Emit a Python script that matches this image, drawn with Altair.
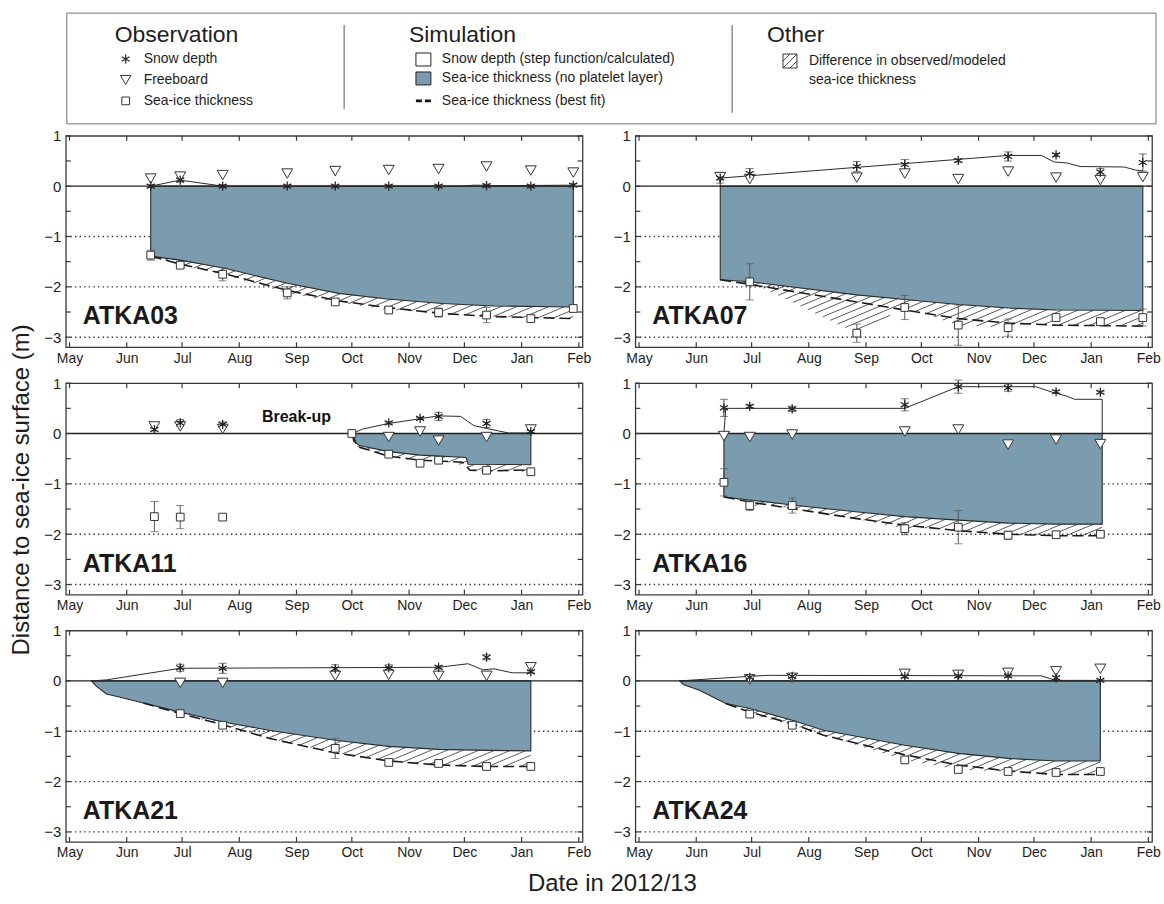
import altair as alt
import numpy as np
import pandas as pd

FONT = "Liberation Sans"
INK = "#1e1e1e"
FRAME = "#3a3a3a"
ICE_BLUE = "#7b9bae"

# ---------------------------------------------------------------- axes / text
SEASON_START = "2012-05-01"
MONTH_STARTS = ["2012-05-01", "2012-06-01", "2012-07-01", "2012-08-01", "2012-09-01",
                "2012-10-01", "2012-11-01", "2012-12-01", "2013-01-01", "2013-02-01"]
MONTH_LABELS = ["May", "Jun", "Jul", "Aug", "Sep", "Oct", "Nov", "Dec", "Jan", "Feb"]
Y_LABEL_VALUES = [1, 0, -1, -2, -3]
Y_TICK_VALUES = [1, 0.5, 0, -0.5, -1, -1.5, -2, -2.5, -3]
DOTTED_LEVELS = [-1, -2, -3]

Y_TITLE = "Distance to sea-ice surface (m)"
X_TITLE = "Date in 2012/13"
LEGEND_HEADINGS = ["Observation", "Simulation", "Other"]
OBS_ITEMS = ["Snow depth", "Freeboard", "Sea-ice thickness"]
SIM_ITEMS = ["Snow depth (step function/calculated)",
             "Sea-ice thickness (no platelet layer)",
             "Sea-ice thickness (best fit)"]
OTHER_ITEMS = ["Difference in observed/modeled", "sea-ice thickness"]

BREAKUP_TEXT = "Break-up"
BREAKUP_DATE = ["2012-09-01"]
BREAKUP_LEVEL = [0.23]

# ---------------------------------------------------------------- ATKA03
atka03_obs_dates = ["2012-06-14", "2012-06-30", "2012-07-23", "2012-08-27", "2012-09-22",
                    "2012-10-21", "2012-11-17", "2012-12-13", "2013-01-06", "2013-01-29"]
atka03_snow = [0.0, 0.12, 0.0, 0.0, 0.0, 0.0, 0.0, 0.01, 0.0, 0.02]
atka03_snow_err = [0.03, 0.04, 0.03, 0.02, 0.02, 0.02, 0.02, 0.03, 0.02, 0.03]
atka03_freeboard = [0.15, 0.19, 0.22, 0.25, 0.30, 0.32, 0.34, 0.39, 0.31, 0.27]
atka03_ice = [-1.37, -1.57, -1.75, -2.12, -2.30, -2.46, -2.51, -2.56, -2.63, -2.43]
atka03_ice_err = [0.10, 0.05, 0.13, 0.12, 0.03, 0.03, 0.09, 0.15, 0.03, 0.03]
atka03_model_dates = ["2012-06-14", "2012-06-30", "2012-07-24", "2012-08-27", "2012-09-24",
                      "2012-10-20", "2012-11-19", "2012-12-17", "2013-01-29"]
atka03_model_ice = [-1.39, -1.47, -1.63, -1.93, -2.13, -2.24, -2.33, -2.38, -2.40]
atka03_fit_dates = atka03_model_dates
atka03_fit_ice = [-1.39, -1.55, -1.74, -2.07, -2.28, -2.41, -2.53, -2.59, -2.63]
atka03_calc_dates = ["2012-06-14", "2012-06-30", "2012-07-23", "2012-11-30", "2012-12-06",
                     "2012-12-20", "2013-01-29"]
atka03_calc_snow = [0.0, 0.12, 0.0, 0.0, 0.02, 0.01, 0.02]

# ---------------------------------------------------------------- ATKA07
atka07_obs_dates = ["2012-06-14", "2012-06-30", "2012-08-27", "2012-09-22", "2012-10-21",
                    "2012-11-17", "2012-12-13", "2013-01-06", "2013-01-29"]
atka07_snow = [0.16, 0.25, 0.39, 0.43, 0.51, 0.59, 0.62, 0.28, 0.47]
atka07_snow_err = [0.10, 0.10, 0.10, 0.10, 0.03, 0.09, 0.03, 0.07, 0.17]
atka07_freeboard = [0.18, 0.14, 0.17, 0.25, 0.14, 0.29, 0.17, 0.12, 0.18]
atka07_ice = [None, -1.90, -2.92, -2.41, -2.76, -2.81, -2.61, -2.69, -2.61]
atka07_ice_err = [None, 0.36, 0.18, 0.24, 0.40, 0.17, 0.04, 0.04, 0.17]
atka07_model_dates = ["2012-06-14", "2012-06-30", "2012-08-27", "2012-09-22", "2012-10-21",
                      "2012-11-17", "2012-12-13", "2013-01-29"]
atka07_model_ice = [-1.86, -1.90, -2.16, -2.25, -2.35, -2.42, -2.46, -2.47]
atka07_fit_dates = atka07_model_dates
atka07_fit_ice = [-1.86, -1.95, -2.30, -2.46, -2.63, -2.72, -2.76, -2.78]
atka07_calc_dates = ["2012-06-14", "2012-06-14", "2012-11-17", "2012-12-05", "2012-12-12",
                     "2012-12-19", "2012-12-26", "2013-01-19", "2013-01-25", "2013-01-29"]
atka07_calc_snow = [0.0, 0.16, 0.61, 0.61, 0.48, 0.46, 0.39, 0.38, 0.32, 0.30]

# ---------------------------------------------------------------- ATKA11
atka11_obs_dates = ["2012-06-16", "2012-06-30", "2012-07-23", "2012-10-01", "2012-10-21",
                    "2012-11-07", "2012-11-17", "2012-12-13", "2013-01-06"]
atka11_snow = [0.08, 0.21, 0.18, None, 0.21, 0.30, 0.34, 0.20, 0.04]
atka11_snow_err = [0.03, 0.07, 0.05, None, 0.02, 0.02, 0.08, 0.08, 0.02]
atka11_freeboard = [0.14, 0.14, 0.09, None, -0.07, 0.04, -0.14, -0.07, 0.08]
atka11_ice = [-1.65, -1.66, -1.66, 0.0, -0.41, -0.59, -0.53, -0.73, -0.76]
atka11_ice_err = [0.30, 0.23, 0.05, 0.02, 0.02, 0.02, 0.03, 0.04, 0.02]
atka11_model_dates = ["2012-10-01", "2012-10-02", "2012-10-05", "2012-10-21", "2012-11-07",
                      "2012-11-30", "2012-12-02", "2012-12-03", "2013-01-06"]
atka11_model_ice = [0.0, -0.15, -0.24, -0.36, -0.43, -0.47, -0.48, -0.61, -0.62]
atka11_fit_dates = ["2012-10-01", "2012-10-04", "2012-10-21", "2012-11-07", "2012-11-30",
                    "2012-12-04", "2012-12-17", "2013-01-06"]
atka11_fit_ice = [0.0, -0.26, -0.45, -0.53, -0.57, -0.73, -0.74, -0.72]
atka11_calc_dates = ["2012-10-01", "2012-10-07", "2012-10-21", "2012-11-17", "2012-11-29",
                     "2012-12-06", "2012-12-13", "2012-12-25", "2013-01-06"]
atka11_calc_snow = [0.0, 0.09, 0.20, 0.35, 0.34, 0.16, 0.10, 0.01, 0.01]

# ---------------------------------------------------------------- ATKA16
atka16_obs_dates = ["2012-06-16", "2012-06-30", "2012-07-23", "2012-09-22", "2012-10-21",
                    "2012-11-17", "2012-12-13", "2013-01-06"]
atka16_snow = [0.51, 0.54, 0.49, 0.57, 0.93, 0.91, 0.83, 0.82]
atka16_snow_err = [0.17, 0.03, 0.05, 0.12, 0.13, 0.07, 0.03, 0.02]
atka16_freeboard = [-0.05, -0.07, -0.02, 0.04, 0.08, -0.22, -0.12, -0.21]
atka16_ice = [-0.97, -1.43, -1.43, -1.89, -1.86, -2.02, -2.01, -2.00]
atka16_ice_err = [0.27, 0.10, 0.15, 0.12, 0.33, 0.08, 0.03, 0.03]
atka16_model_dates = ["2012-06-16", "2012-06-30", "2012-07-23", "2012-08-25", "2012-09-22",
                      "2012-10-21", "2012-11-17", "2012-12-13", "2013-01-07"]
atka16_model_ice = [-1.26, -1.32, -1.42, -1.55, -1.65, -1.72, -1.78, -1.80, -1.80]
atka16_fit_dates = atka16_model_dates
atka16_fit_ice = [-1.26, -1.36, -1.49, -1.68, -1.82, -1.93, -2.00, -2.03, -2.03]
atka16_calc_dates = ["2012-06-16", "2012-06-17", "2012-09-22", "2012-10-21", "2012-12-02",
                     "2012-12-11", "2012-12-15", "2012-12-19", "2012-12-23", "2013-01-07",
                     "2013-01-07"]
atka16_calc_snow = [0.0, 0.50, 0.50, 0.93, 0.93, 0.82, 0.78, 0.74, 0.68, 0.68, 0.0]

# ---------------------------------------------------------------- ATKA21
atka21_obs_dates = ["2012-06-30", "2012-07-23", "2012-09-22", "2012-10-21", "2012-11-17",
                    "2012-12-13", "2013-01-06"]
atka21_snow = [0.26, 0.25, 0.24, 0.26, 0.27, 0.47, 0.18]
atka21_snow_err = [0.07, 0.10, 0.08, 0.06, 0.03, 0.05, 0.02]
atka21_freeboard = [-0.04, -0.04, 0.10, 0.12, 0.10, 0.10, 0.27]
atka21_ice = [-0.65, -0.88, -1.34, -1.62, -1.64, -1.70, -1.70]
atka21_ice_err = [0.03, 0.03, 0.20, 0.04, 0.04, 0.03, 0.02]
atka21_model_dates = ["2012-05-13", "2012-05-15", "2012-05-21", "2012-05-28", "2012-06-10",
                      "2012-06-30", "2012-07-24", "2012-08-17", "2012-09-22", "2012-10-21",
                      "2012-11-17", "2012-12-13", "2013-01-06"]
atka21_model_ice = [0.0, -0.09, -0.26, -0.32, -0.44, -0.62, -0.82, -0.98, -1.18, -1.30,
                    -1.36, -1.38, -1.39]
atka21_fit_dates = ["2012-06-10", "2012-06-30", "2012-07-24", "2012-08-17", "2012-09-22",
                    "2012-10-21", "2012-11-17", "2012-12-13", "2013-01-06"]
atka21_fit_ice = [-0.44, -0.65, -0.88, -1.14, -1.43, -1.59, -1.67, -1.70, -1.70]
atka21_calc_dates = ["2012-05-13", "2012-05-21", "2012-06-30", "2012-11-17", "2012-12-03",
                     "2012-12-11", "2012-12-17", "2012-12-27", "2013-01-06"]
atka21_calc_snow = [0.0, 0.02, 0.25, 0.27, 0.34, 0.22, 0.24, 0.16, 0.16]

# ---------------------------------------------------------------- ATKA24
atka24_obs_dates = ["2012-06-30", "2012-07-23", "2012-09-22", "2012-10-21", "2012-11-17",
                    "2012-12-13", "2013-01-06"]
atka24_snow = [0.07, 0.09, 0.09, 0.10, 0.10, 0.06, 0.01]
atka24_snow_err = [0.03, 0.03, 0.03, 0.03, 0.03, 0.03, 0.01]
atka24_freeboard = [0.03, 0.06, 0.14, 0.12, 0.16, 0.19, 0.24]
atka24_ice = [-0.66, -0.88, -1.57, -1.76, -1.80, -1.82, -1.80]
atka24_ice_err = [0.05, 0.04, 0.05, 0.04, 0.04, 0.02, 0.02]
atka24_model_dates = ["2012-05-23", "2012-05-25", "2012-06-03", "2012-06-17", "2012-06-30",
                      "2012-07-23", "2012-08-09", "2012-09-22", "2012-10-21", "2012-11-17",
                      "2012-12-13", "2013-01-06"]
atka24_model_ice = [0.0, -0.07, -0.19, -0.45, -0.55, -0.78, -0.98, -1.28, -1.44, -1.54,
                    -1.59, -1.59]
atka24_fit_dates = ["2012-06-17", "2012-06-30", "2012-07-23", "2012-08-09", "2012-09-22",
                    "2012-10-21", "2012-11-17", "2012-12-13", "2013-01-06"]
atka24_fit_ice = [-0.45, -0.62, -0.85, -1.08, -1.47, -1.67, -1.79, -1.86, -1.86]
atka24_calc_dates = ["2012-05-23", "2012-06-30", "2012-07-10", "2012-12-05", "2012-12-11",
                     "2012-12-15", "2013-01-06"]
atka24_calc_snow = [0.0, 0.09, 0.11, 0.10, 0.03, 0.01, 0.01]

# ---------------------------------------------------------------- geometry
W, H = 518, 212
X_DOMAIN = [-2, 278]
Y_DOMAIN = [-3.2, 1.0]
PX_DAY = W / (X_DOMAIN[1] - X_DOMAIN[0])
PX_M = H / (Y_DOMAIN[1] - Y_DOMAIN[0])

ASTERISK = "M0,-1L0,1M-0.87,-0.5L0.87,0.5M-0.87,0.5L0.87,-0.5"
ONE = pd.DataFrame({"k": [0]})


def to_days(dates):
    start = pd.Timestamp(SEASON_START)
    return [(pd.Timestamp(d) - start).days for d in dates]


MONTH_DAYS = to_days(MONTH_STARTS)
X_LABEL_EXPR = f"{MONTH_LABELS}[indexof({MONTH_DAYS}, datum.value)]"
Y_LABEL_EXPR = "datum.value < 0 ? '\u2212' + abs(datum.value) : '' + datum.value"


def X(field="x"):
    return alt.X(f"{field}:Q",
                 scale=alt.Scale(domain=X_DOMAIN, nice=False, zero=False),
                 axis=alt.Axis(values=MONTH_DAYS, labelExpr=X_LABEL_EXPR, title=None,
                               domain=False, ticks=False, grid=False, labelFont=FONT,
                               labelFontSize=14, labelColor=INK, labelPadding=4,
                               labelFlush=False, labelOverlap=False, labelBound=False))


def Y(field="y"):
    return alt.Y(f"{field}:Q",
                 scale=alt.Scale(domain=Y_DOMAIN, nice=False, zero=False),
                 axis=alt.Axis(values=Y_LABEL_VALUES, labelExpr=Y_LABEL_EXPR, title=None,
                               domain=False, ticks=False, grid=False, labelFont=FONT,
                               labelFontSize=15, labelColor=INK, labelPadding=5,
                               labelFlush=False, labelOverlap=False))


def hatch_segments(model_x, model_y, fit_x, fit_y, obs_x, obs_y, slope=0.42, spacing=16.0):
    """Diagonal hatch strokes filling the gap between modelled and observed ice bottom."""
    xs = np.arange(model_x[0], model_x[-1] + 1e-9, 0.1)
    upper = np.interp(xs, model_x, model_y)
    lower = np.full_like(xs, np.inf)
    in_fit = (xs >= fit_x[0]) & (xs <= fit_x[-1])
    lower[in_fit] = np.interp(xs[in_fit], fit_x, fit_y)
    if len(obs_x) > 1:
        in_obs = (xs >= obs_x[0]) & (xs <= obs_x[-1])
        lower[in_obs] = np.minimum(lower[in_obs], np.interp(xs[in_obs], obs_x, obs_y))
    u = xs * PX_DAY
    vu = upper * PX_M
    vl = np.where(np.isfinite(lower), lower * PX_M, vu)
    valid = (vu - vl) > 1.0
    rows = []
    if valid.any():
        step = slope * spacing
        b_lo = np.min((vl - slope * u)[valid])
        b_hi = np.max((vu - slope * u)[valid])
        for b in np.arange(np.floor(b_lo / step) * step, b_hi + step, step):
            v = slope * u + b
            inside = valid & (v <= vu) & (v >= vl)
            idx = np.flatnonzero(inside)
            if idx.size == 0:
                continue
            breaks = np.flatnonzero(np.diff(idx) > 1)
            starts = np.concatenate([[idx[0]], idx[breaks + 1]])
            ends = np.concatenate([idx[breaks], [idx[-1]]])
            for s, e in zip(starts, ends):
                if e - s < 3:
                    continue
                rows.append({"x": xs[s], "y": v[s] / PX_M, "x2": xs[e], "y2": v[e] / PX_M})
    return pd.DataFrame(rows, columns=["x", "y", "x2", "y2"])


def error_layers(df, color):
    bars = df.assign(lo=df["v"] - df["e"], hi=df["v"] + df["e"])
    caps = pd.concat([bars[["x", "lo"]].rename(columns={"lo": "y"}),
                      bars[["x", "hi"]].rename(columns={"hi": "y"})])
    rule = alt.Chart(bars).mark_rule(color=color, strokeWidth=1).encode(
        x=X(), y=Y("lo"), y2="hi:Q")
    cap = alt.Chart(caps).mark_tick(orient="horizontal", size=8, thickness=1,
                                    color=color).encode(x=X(), y=Y())
    return [rule, cap]


def station_panel(name, obs_dates, snow, snow_err, freeboard, ice, ice_err,
                  model_dates, model_ice, fit_dates, fit_ice, calc_dates, calc_snow,
                  extra=()):
    model_x = to_days(model_dates)
    fit_x = to_days(fit_dates)
    obs = pd.DataFrame({"x": to_days(obs_dates), "snow": snow, "snow_err": snow_err,
                        "fb": freeboard, "ice": ice, "ice_err": ice_err}).astype(float)
    model_df = pd.DataFrame({"x": model_x, "y": model_ice})
    fit_df = pd.DataFrame({"x": fit_x, "y": fit_ice})
    calc_df = pd.DataFrame({"x": to_days(calc_dates), "y": calc_snow,
                            "i": range(len(calc_dates))})

    snow_df = obs.dropna(subset=["snow"])
    fb_df = obs.dropna(subset=["fb"])
    ice_df = obs.dropna(subset=["ice"])
    ice_in_season = ice_df[ice_df["x"] >= model_x[0]]
    hatch_df = hatch_segments(model_x, model_ice, fit_x, fit_ice,
                              ice_in_season["x"].tolist(), ice_in_season["ice"].tolist())

    layers = [
        alt.Chart(pd.DataFrame({"y": DOTTED_LEVELS})).mark_rule(
            color="#333", strokeWidth=1.4, strokeDash=[1.4, 3.2]).encode(
            y=Y(), x=alt.value(0), x2=alt.value(W)),
        alt.Chart(model_df).mark_area(fill=ICE_BLUE, stroke="#2a2a2a", strokeWidth=1.1,
                                      opacity=1).encode(x=X(), y=Y(), y2=alt.datum(0)),
        alt.Chart(pd.DataFrame({"y": [0]})).mark_rule(color="#222", strokeWidth=1.3).encode(
            y=Y(), x=alt.value(0), x2=alt.value(W)),
    ]
    if len(hatch_df):
        layers.append(alt.Chart(hatch_df).mark_rule(color="#333", strokeWidth=0.8).encode(
            x=X(), y=Y(), x2="x2:Q", y2="y2:Q"))
    layers += [
        alt.Chart(fit_df).mark_line(color="#1a1a1a", strokeWidth=1.6,
                                    strokeDash=[11, 5]).encode(x=X(), y=Y()),
        alt.Chart(calc_df).mark_line(color="#2a2a2a", strokeWidth=1).encode(
            x=X(), y=Y(), order="i:Q"),
    ]
    layers += error_layers(
        snow_df.rename(columns={"snow": "v", "snow_err": "e"})[["x", "v", "e"]], "#444")
    layers += error_layers(
        ice_df.rename(columns={"ice": "v", "ice_err": "e"})[["x", "v", "e"]], "#555")
    layers += [
        alt.Chart(fb_df).mark_point(shape="triangle-down", filled=True, fill="white",
                                    stroke="#333", strokeWidth=1, size=120,
                                    opacity=1).encode(x=X(), y=Y("fb")),
        alt.Chart(ice_df).mark_point(shape="square", filled=True, fill="white",
                                     stroke="#333", strokeWidth=1, size=60,
                                     opacity=1).encode(x=X(), y=Y("ice")),
        alt.Chart(snow_df).mark_point(shape=ASTERISK, filled=False, color="#222",
                                      strokeWidth=1.25, size=85,
                                      opacity=1).encode(x=X(), y=Y("snow")),
    ]
    # inward ticks on all four sides
    month_df = pd.DataFrame({"x": MONTH_DAYS})
    ytick_df = pd.DataFrame({"y": Y_TICK_VALUES})
    layers += [
        alt.Chart(month_df).mark_rule(color=FRAME, strokeWidth=1.2).encode(
            x=X(), y=alt.value(0), y2=alt.value(5)),
        alt.Chart(month_df).mark_rule(color=FRAME, strokeWidth=1.2).encode(
            x=X(), y=alt.value(H), y2=alt.value(H - 5)),
        alt.Chart(ytick_df).mark_rule(color=FRAME, strokeWidth=1.2).encode(
            y=Y(), x=alt.value(0), x2=alt.value(5)),
        alt.Chart(ytick_df).mark_rule(color=FRAME, strokeWidth=1.2).encode(
            y=Y(), x=alt.value(W), x2=alt.value(W - 5)),
        alt.Chart(ONE).mark_text(text=name, align="left", baseline="alphabetic",
                                 font=FONT, fontSize=25, fontWeight="bold",
                                 color="#1a1a1a").encode(x=alt.value(17), y=alt.value(189)),
    ]
    layers += list(extra)
    return alt.layer(*layers).properties(width=W, height=H)


breakup = alt.Chart(pd.DataFrame({"x": to_days(BREAKUP_DATE), "y": BREAKUP_LEVEL})).mark_text(
    text=BREAKUP_TEXT, align="center", baseline="alphabetic", font=FONT, fontSize=16,
    fontWeight="bold", color="#111").encode(x=X(), y=Y())

y_title = alt.Chart(ONE).mark_text(
    text=Y_TITLE, angle=270, align="center", baseline="middle", font=FONT, fontSize=24,
    color=INK).encode(x=alt.value(-44), y=alt.value(107))

x_title = alt.Chart(ONE).mark_text(
    text=X_TITLE, align="center", baseline="middle", font=FONT, fontSize=24,
    color=INK).encode(x=alt.value(548), y=alt.value(254))

p03 = station_panel("ATKA03", atka03_obs_dates, atka03_snow, atka03_snow_err, atka03_freeboard,
                    atka03_ice, atka03_ice_err, atka03_model_dates, atka03_model_ice,
                    atka03_fit_dates, atka03_fit_ice, atka03_calc_dates, atka03_calc_snow)
p07 = station_panel("ATKA07", atka07_obs_dates, atka07_snow, atka07_snow_err, atka07_freeboard,
                    atka07_ice, atka07_ice_err, atka07_model_dates, atka07_model_ice,
                    atka07_fit_dates, atka07_fit_ice, atka07_calc_dates, atka07_calc_snow)
p11 = station_panel("ATKA11", atka11_obs_dates, atka11_snow, atka11_snow_err, atka11_freeboard,
                    atka11_ice, atka11_ice_err, atka11_model_dates, atka11_model_ice,
                    atka11_fit_dates, atka11_fit_ice, atka11_calc_dates, atka11_calc_snow,
                    extra=[breakup, y_title])
p16 = station_panel("ATKA16", atka16_obs_dates, atka16_snow, atka16_snow_err, atka16_freeboard,
                    atka16_ice, atka16_ice_err, atka16_model_dates, atka16_model_ice,
                    atka16_fit_dates, atka16_fit_ice, atka16_calc_dates, atka16_calc_snow)
p21 = station_panel("ATKA21", atka21_obs_dates, atka21_snow, atka21_snow_err, atka21_freeboard,
                    atka21_ice, atka21_ice_err, atka21_model_dates, atka21_model_ice,
                    atka21_fit_dates, atka21_fit_ice, atka21_calc_dates, atka21_calc_snow,
                    extra=[x_title])
p24 = station_panel("ATKA24", atka24_obs_dates, atka24_snow, atka24_snow_err, atka24_freeboard,
                    atka24_ice, atka24_ice_err, atka24_model_dates, atka24_model_ice,
                    atka24_fit_dates, atka24_fit_ice, atka24_calc_dates, atka24_calc_snow)

# ---------------------------------------------------------------- legend box
LW, LH = 1094, 111


def ltext(text, x, y, size=14):
    return alt.Chart(ONE).mark_text(text=text, align="left", baseline="middle", font=FONT,
                                    fontSize=size, color=INK).encode(
        x=alt.value(x), y=alt.value(y))


legend_layers = [
    alt.Chart(ONE).mark_rect(fill="white", stroke="#777", strokeWidth=1).encode(
        x=alt.value(1), x2=alt.value(LW - 1), y=alt.value(0), y2=alt.value(LH)),
    alt.Chart(ONE).mark_rule(color="#555", strokeWidth=1).encode(
        x=alt.value(279), y=alt.value(12), y2=alt.value(96)),
    alt.Chart(ONE).mark_rule(color="#555", strokeWidth=1).encode(
        x=alt.value(668), y=alt.value(12), y2=alt.value(100)),
    ltext(LEGEND_HEADINGS[0], 49, 22, 23),
    ltext(LEGEND_HEADINGS[1], 344, 22, 23),
    ltext(LEGEND_HEADINGS[2], 703, 22, 23),
    alt.Chart(ONE).mark_point(shape=ASTERISK, filled=False, color="#222", strokeWidth=1.2,
                              size=80, opacity=1).encode(x=alt.value(60), y=alt.value(46)),
    alt.Chart(ONE).mark_point(shape="triangle-down", filled=True, fill="white", stroke="#333",
                              strokeWidth=1, size=110, opacity=1).encode(
        x=alt.value(60), y=alt.value(67)),
    alt.Chart(ONE).mark_point(shape="square", filled=True, fill="white", stroke="#333",
                              strokeWidth=1, size=60, opacity=1).encode(
        x=alt.value(60), y=alt.value(88)),
    ltext(OBS_ITEMS[0], 78, 46),
    ltext(OBS_ITEMS[1], 78, 67),
    ltext(OBS_ITEMS[2], 78, 88),
    alt.Chart(ONE).mark_rect(fill="white", stroke="#222", strokeWidth=1).encode(
        x=alt.value(351), x2=alt.value(366), y=alt.value(40), y2=alt.value(53)),
    alt.Chart(ONE).mark_rect(fill=ICE_BLUE, stroke="#222", strokeWidth=1).encode(
        x=alt.value(351), x2=alt.value(366), y=alt.value(59), y2=alt.value(72)),
    alt.Chart(ONE).mark_rule(color="#111", strokeWidth=2.6, strokeDash=[6, 3]).encode(
        x=alt.value(351), x2=alt.value(367), y=alt.value(88)),
    ltext(SIM_ITEMS[0], 377, 46),
    ltext(SIM_ITEMS[1], 377, 65),
    ltext(SIM_ITEMS[2], 377, 88),
    alt.Chart(ONE).mark_rect(fill="white", stroke="#333", strokeWidth=1).encode(
        x=alt.value(719), x2=alt.value(733), y=alt.value(41), y2=alt.value(55)),
    alt.Chart(ONE).mark_rule(color="#333", strokeWidth=0.9).encode(
        x=alt.value(719), x2=alt.value(726), y=alt.value(48), y2=alt.value(41)),
    alt.Chart(ONE).mark_rule(color="#333", strokeWidth=0.9).encode(
        x=alt.value(719), x2=alt.value(733), y=alt.value(55), y2=alt.value(41)),
    alt.Chart(ONE).mark_rule(color="#333", strokeWidth=0.9).encode(
        x=alt.value(726), x2=alt.value(733), y=alt.value(55), y2=alt.value(48)),
    ltext(OTHER_ITEMS[0], 745, 48),
    ltext(OTHER_ITEMS[1], 745, 67),
]
legend = alt.layer(*legend_layers).properties(
    width=LW, height=LH, view=alt.ViewBackground(stroke="transparent"))

# one flat two-column grid so that flush bounds use each panel's own size
grid = alt.concat(p03, p07, p11, p16, p21, p24, columns=2,
                  spacing={"row": 36, "column": 53}, bounds="flush")

chart = alt.vconcat(legend, grid, spacing=12, bounds="flush").properties(
    padding={"left": 9, "top": 10, "right": 2, "bottom": 2}
).configure(font=FONT, background="white").configure_view(stroke=FRAME, strokeWidth=1.3)

chart.save("out.html", embed_options={"renderer": "svg", "actions": False})
